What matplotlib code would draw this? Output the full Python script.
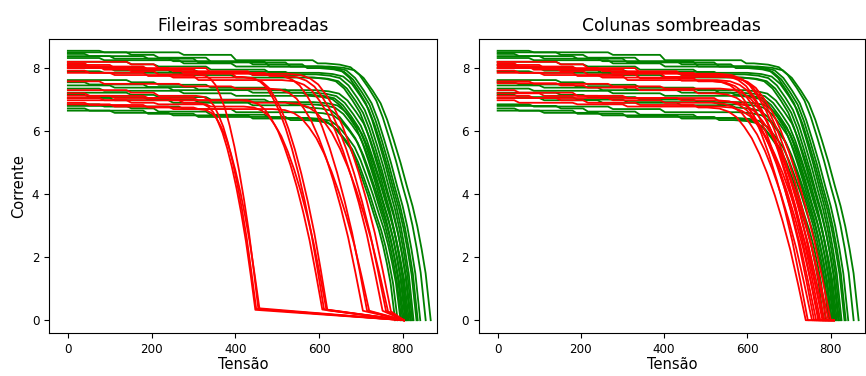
import matplotlib
matplotlib.use("Agg")
import matplotlib.pyplot as plt

# Voltage positions where each string's current steps down (one set per pattern)
STEP_SETS = [
    [0, 75, 265, 390, 585],
    [0, 140, 205, 330, 470],
    [0, 40, 180, 300, 520],
    [0, 100, 240, 430, 560],
]

# Knee profiles: fraction of end voltage vs fraction of plateau current
GREEN_KNEE_V = [0.72, 0.76, 0.79, 0.815, 0.84, 0.862, 0.88, 0.898, 0.917,
                0.935, 0.95, 0.963, 0.975, 0.986, 1.0]
GREEN_KNEE_I = [1.0, 0.995, 0.985, 0.955, 0.905, 0.855, 0.79, 0.71, 0.62,
                0.525, 0.45, 0.37, 0.28, 0.185, 0.0]
RED_KNEE_V = [0.68, 0.72, 0.75, 0.775, 0.80, 0.825, 0.85, 0.875, 0.90,
              0.925, 0.95, 0.975, 1.0]
RED_KNEE_I = [1.0, 0.995, 0.98, 0.955, 0.91, 0.855, 0.78, 0.69, 0.585,
              0.465, 0.33, 0.17, 0.0]

# Unshaded arrays (green): current levels, step pattern and open-circuit voltage
GREEN_LEVELS = [
    [8.55, 8.50, 8.42, 8.25, 8.15],
    [8.50, 8.42, 8.33, 8.20, 8.05],
    [8.45, 8.38, 8.30, 8.18, 8.05],
    [8.38, 8.30, 8.22, 8.12, 8.00],
    [8.32, 8.25, 8.15, 8.05, 7.95],
    [8.20, 8.12, 8.05, 7.95, 7.85],
    [8.10, 8.02, 7.95, 7.88, 7.80],
    [8.00, 7.92, 7.85, 7.78, 7.70],
    [7.90, 7.85, 7.78, 7.70, 7.62],
    [7.62, 7.55, 7.47, 7.38, 7.30],
    [7.55, 7.48, 7.40, 7.32, 7.22],
    [7.45, 7.38, 7.30, 7.22, 7.15],
    [7.35, 7.28, 7.20, 7.12, 7.05],
    [7.22, 7.15, 7.08, 7.00, 6.92],
    [7.15, 7.08, 7.00, 6.92, 6.85],
    [7.05, 6.98, 6.90, 6.82, 6.75],
    [6.85, 6.78, 6.70, 6.60, 6.50],
    [6.80, 6.72, 6.62, 6.52, 6.42],
    [6.72, 6.65, 6.55, 6.45, 6.35],
    [6.65, 6.58, 6.50, 6.40, 6.30],
]
GREEN_STEP_SET = [0, 1, 2, 3, 0, 1, 2, 3, 0, 1, 2, 3, 0, 1, 2, 3, 0, 1, 2, 3]
GREEN_VOC = [855, 867, 842, 836, 826, 833, 823, 818, 810, 820,
             812, 806, 800, 815, 808, 797, 803, 795, 788, 782]

# Shaded rows (red, left): current levels, step pattern, voltage where the
# shaded part collapses and current left on the bypass tail
ROW_LEVELS = [
    [8.20, 8.12, 8.00, 7.85, 7.75],
    [8.15, 8.05, 7.95, 7.82, 7.70],
    [8.10, 8.00, 7.90, 7.78, 7.65],
    [8.05, 7.95, 7.85, 7.72, 7.62],
    [8.00, 7.90, 7.80, 7.68, 7.58],
    [7.92, 7.85, 7.75, 7.62, 7.55],
    [7.85, 7.78, 7.70, 7.60, 7.50],
    [7.58, 7.50, 7.42, 7.35, 7.25],
    [7.30, 7.22, 7.12, 7.05, 6.95],
    [7.20, 7.12, 7.05, 6.98, 6.90],
    [7.12, 7.05, 6.98, 6.90, 6.82],
    [7.05, 6.98, 6.90, 6.83, 6.75],
    [6.98, 6.90, 6.85, 6.78, 6.70],
    [6.90, 6.83, 6.75, 6.70, 6.62],
    [6.85, 6.78, 6.70, 6.63, 6.55],
]
ROW_STEP_SET = [1, 2, 3, 0, 1, 2, 3, 0, 1, 2, 3, 0, 1, 2, 3]
ROW_DROP_V = [760, 772, 715, 612, 455, 752, 620, 705, 450, 608, 765, 448, 618, 720, 458]
ROW_TAIL_I = [0.30, 0.28, 0.30, 0.35, 0.38, 0.30, 0.33, 0.30, 0.36, 0.34, 0.28, 0.33, 0.32, 0.30, 0.35]
ROW_TAIL_END_V = 803

# Shaded columns (red, right): current levels, step pattern, open-circuit voltage
COL_LEVELS = [
    [8.20, 8.12, 8.00, 7.85, 7.75],
    [8.15, 8.05, 7.95, 7.82, 7.70],
    [8.10, 8.00, 7.90, 7.78, 7.65],
    [8.05, 7.95, 7.85, 7.72, 7.62],
    [8.00, 7.90, 7.80, 7.68, 7.58],
    [7.92, 7.85, 7.75, 7.62, 7.55],
    [7.85, 7.78, 7.70, 7.60, 7.50],
    [7.58, 7.50, 7.42, 7.35, 7.25],
    [7.52, 7.45, 7.38, 7.30, 7.20],
    [7.30, 7.22, 7.12, 7.05, 6.95],
    [7.20, 7.12, 7.05, 6.98, 6.90],
    [7.12, 7.05, 6.98, 6.90, 6.82],
    [7.05, 6.98, 6.90, 6.83, 6.75],
    [6.98, 6.90, 6.85, 6.78, 6.70],
]
COL_STEP_SET = [1, 2, 3, 0, 1, 2, 3, 0, 1, 2, 3, 0, 1, 2]
COL_VOC = [790, 780, 770, 800, 760, 775, 745, 785, 765, 795, 772, 755, 740, 782]
COL_TAIL_END_V = 808

STEP_WIDTH = 12  # voltage span of one current step


def iv_curve(levels, steps, v_end, knee_v, knee_i, i_floor=0.0):
    """Staircase plateau followed by the knee down to i_floor at v_end."""
    v_knee = knee_v[0] * v_end
    vs, cs = [0.0], [levels[0]]
    cur = levels[0]
    for k in range(1, len(levels)):
        v = steps[k]
        if v + STEP_WIDTH >= v_knee:
            break
        vs += [v, v + STEP_WIDTH]
        cs += [cur, levels[k]]
        cur = levels[k]
    for fv, fi in zip(knee_v, knee_i):
        vs.append(fv * v_end)
        cs.append(i_floor + (cur - i_floor) * fi)
    return vs, cs


fig = plt.figure(figsize=(8.66, 3.76), dpi=100)
ax1 = fig.add_axes([0.0566, 0.114, 0.448, 0.782])
ax2 = fig.add_axes([0.553, 0.114, 0.4457, 0.782])

LW = 1.3
for ax in (ax1, ax2):
    for lev, s, voc in zip(GREEN_LEVELS, GREEN_STEP_SET, GREEN_VOC):
        v, c = iv_curve(lev, STEP_SETS[s], voc, GREEN_KNEE_V, GREEN_KNEE_I)
        ax.plot(v, c, color="green", lw=LW)

for lev, s, vd, it in zip(ROW_LEVELS, ROW_STEP_SET, ROW_DROP_V, ROW_TAIL_I):
    v, c = iv_curve(lev, STEP_SETS[s], vd, RED_KNEE_V, RED_KNEE_I, i_floor=it)
    v += [ROW_TAIL_END_V]
    c += [0.0]
    ax1.plot(v, c, color="red", lw=LW)

for lev, s, voc in zip(COL_LEVELS, COL_STEP_SET, COL_VOC):
    v, c = iv_curve(lev, STEP_SETS[s], voc, RED_KNEE_V, RED_KNEE_I)
    v += [COL_TAIL_END_V]
    c += [0.0]
    ax2.plot(v, c, color="red", lw=LW)

for ax, title in ((ax1, "Fileiras sombreadas"), (ax2, "Colunas sombreadas")):
    ax.set_xlim(-45, 882)
    ax.set_ylim(-0.41, 8.92)
    ax.set_xticks([0, 200, 400, 600, 800])
    ax.set_yticks([0, 2, 4, 6, 8])
    ax.tick_params(labelsize=8.6)
    ax.set_title(title, fontsize=12.3)
    ax.set_xlabel("Tensão", fontsize=10.5, labelpad=1)
ax1.set_ylabel("Corrente", fontsize=10.5)

fig.savefig("out.png", dpi=100)
